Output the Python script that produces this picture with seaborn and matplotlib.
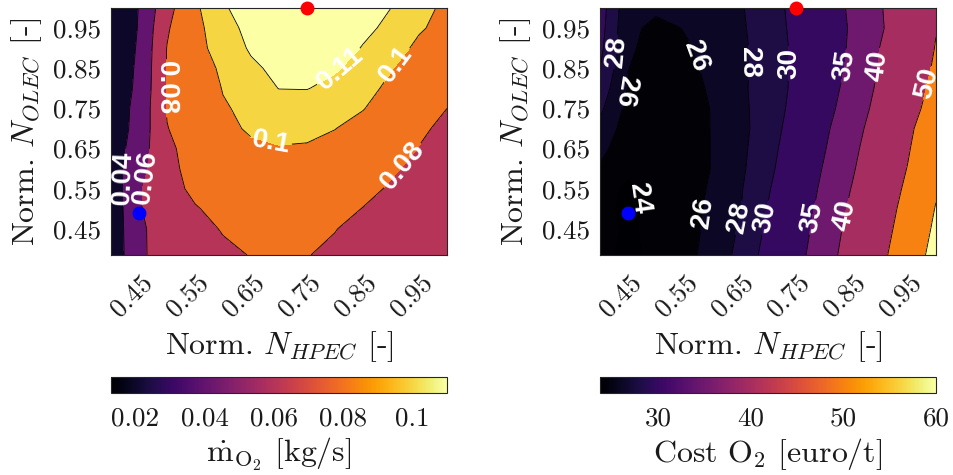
import matplotlib
matplotlib.use("Agg")
import matplotlib.pyplot as plt
import numpy as np
import seaborn as sns
from matplotlib.colors import Normalize
from matplotlib.cm import ScalarMappable
from matplotlib.transforms import ScaledTranslation

# ---------------- data ----------------
x_norm_hpec = [0.40, 0.45, 0.50, 0.55, 0.60, 0.65, 0.70, 0.75, 0.80, 0.85, 0.90, 0.95, 1.00]
y_norm_olec = [0.385, 0.45, 0.50, 0.55, 0.60, 0.65, 0.70, 0.75, 0.80, 0.85, 0.90, 0.95, 1.00]

# mass flow of O2 [kg/s], rows follow y_norm_olec (bottom to top)
mdot_o2 = [
    [0.026, 0.056, 0.070, 0.074, 0.077, 0.0805, 0.082, 0.0805, 0.077, 0.071, 0.068, 0.064, 0.061],
    [0.026, 0.057, 0.068, 0.075, 0.081, 0.0835, 0.085, 0.0845, 0.0805, 0.075, 0.070, 0.066, 0.062],
    [0.026, 0.0585, 0.072, 0.079, 0.084, 0.087, 0.0885, 0.0885, 0.086, 0.0795, 0.073, 0.068, 0.064],
    [0.026, 0.058, 0.0747, 0.083, 0.0875, 0.0905, 0.092, 0.092, 0.0895, 0.085, 0.078, 0.070, 0.065],
    [0.029, 0.053, 0.075, 0.086, 0.090, 0.094, 0.0955, 0.0955, 0.093, 0.089, 0.0825, 0.075, 0.068],
    [0.029, 0.050, 0.077, 0.086, 0.094, 0.098, 0.0995, 0.099, 0.097, 0.093, 0.0875, 0.0795, 0.072],
    [0.028, 0.047, 0.0795, 0.088, 0.097, 0.1015, 0.1025, 0.1025, 0.1002, 0.096, 0.090, 0.083, 0.076],
    [0.028, 0.046, 0.081, 0.090, 0.099, 0.1025, 0.1045, 0.1055, 0.1035, 0.1005, 0.094, 0.087, 0.080],
    [0.027, 0.044, 0.081, 0.092, 0.1005, 0.1055, 0.1102, 0.1103, 0.1075, 0.103, 0.098, 0.092, 0.087],
    [0.027, 0.043, 0.081, 0.094, 0.102, 0.1085, 0.112, 0.1135, 0.111, 0.1065, 0.1005, 0.095, 0.091],
    [0.026, 0.042, 0.0805, 0.096, 0.105, 0.111, 0.114, 0.116, 0.114, 0.1095, 0.104, 0.098, 0.094],
    [0.025, 0.041, 0.078, 0.097, 0.106, 0.113, 0.116, 0.118, 0.117, 0.112, 0.108, 0.101, 0.097],
    [0.025, 0.0405, 0.0733, 0.098, 0.109, 0.114, 0.118, 0.120, 0.119, 0.115, 0.110, 0.103, 0.098],
]

# cost of O2 [euro/t], rows follow y_norm_olec (bottom to top)
cost_o2 = [
    [24.3, 23.75, 24.3, 25.3, 26.8, 28.5, 30.8, 33.5, 37.7, 42.4, 48.1, 55.0, 63.0],
    [24.5, 23.8, 24.35, 25.1, 26.6, 28.2, 30.4, 32.8, 37.1, 41.6, 47.0, 53.5, 61.5],
    [24.4, 23.7, 24.45, 25.0, 26.4, 27.9, 30.1, 32.3, 36.5, 40.9, 46.2, 52.5, 60.4],
    [24.5, 23.8, 24.3, 24.9, 26.3, 27.8, 29.8, 31.9, 35.9, 40.2, 45.3, 51.4, 59.2],
    [25.8, 24.3, 24.05, 24.5, 26.1, 27.6, 29.5, 31.5, 35.3, 39.4, 44.4, 50.3, 57.8],
    [26.5, 24.9, 24.2, 24.6, 26.1, 27.5, 29.3, 31.2, 34.7, 38.7, 43.6, 49.4, 56.5],
    [27.5, 25.0, 24.4, 24.7, 26.1, 27.4, 29.1, 30.9, 34.2, 37.9, 42.8, 48.6, 55.0],
    [28.4, 25.4, 24.6, 24.9, 26.1, 27.5, 29.0, 30.6, 33.6, 37.0, 41.8, 47.2, 53.2],
    [29.2, 25.8, 24.8, 25.1, 26.3, 27.6, 29.0, 30.4, 33.2, 36.4, 41.0, 46.3, 52.0],
    [30.0, 26.05, 25.0, 25.4, 26.5, 27.6, 28.8, 30.4, 32.8, 35.8, 40.4, 45.5, 51.0],
    [30.5, 26.3, 25.3, 25.85, 26.3, 27.6, 28.9, 30.4, 32.7, 35.6, 40.1, 45.0, 50.3],
    [30.8, 26.4, 25.6, 26.05, 26.5, 27.7, 29.0, 30.5, 32.9, 35.4, 39.3, 44.0, 49.8],
    [31.0, 26.6, 26.3, 26.2, 26.5, 27.8, 29.1, 30.6, 33.0, 35.6, 39.5, 44.5, 49.5],
]

mdot_levels = [0.02, 0.04, 0.06, 0.08, 0.10, 0.11]
cost_levels = [24, 26, 28, 30, 35, 40, 50, 60]
mdot_range = (0.013, 0.11)
cost_range = (23.7, 60.0)
mdot_cbar_ticks = [0.02, 0.04, 0.06, 0.08, 0.1]
mdot_cbar_labels = ["0.02", "0.04", "0.06", "0.08", "0.1"]
cost_cbar_ticks = [30, 40, 50, 60]
cost_cbar_labels = ["30", "40", "50", "60"]
axis_ticks = [0.45, 0.55, 0.65, 0.75, 0.85, 0.95]
axis_tick_labels = ["0.45", "0.55", "0.65", "0.75", "0.85", "0.95"]
x_limits = (0.40, 1.00)
y_limits = (0.385, 1.00)

max_mdot_point = (0.75, 1.00)   # red marker
min_cost_point = (0.45, 0.49)   # blue marker

# contour label positions: level -> list of (x, y, reading direction)
mdot_label_pos = {0.04: [(0.422, 0.578, "up")], 0.06: [(0.461, 0.578, "up")],
                  0.08: [(0.497, 0.80, "down"), (0.919, 0.61, "up")],
                  0.10: [(0.684, 0.657, None), (0.904, 0.865, "up")],
                  0.11: [(0.809, 0.85, "up")]}
cost_label_pos = {24: [(0.471, 0.525, "down")],
                  26: [(0.439, 0.795, "down"), (0.564, 0.877, "down"), (0.584, 0.49, "up")],
                  28: [(0.432, 0.89, "up"), (0.668, 0.865, "down"), (0.65, 0.477, "up")],
                  30: [(0.734, 0.862, "up"), (0.70, 0.477, "up")],
                  35: [(0.829, 0.857, "up"), (0.784, 0.477, "up")],
                  40: [(0.896, 0.857, "up"), (0.846, 0.482, "up")],
                  50: [(0.98, 0.815, "up")]}

# ---------------- style ----------------
sns.set_style("white")
plt.rcParams.update({
    "font.family": "serif",
    "font.serif": ["cmr10"],
    "mathtext.fontset": "cm",
    "axes.unicode_minus": False,
    "axes.formatter.use_mathtext": True,
})
cmap = sns.color_palette("inferno", as_cmap=True)

W, H = 954, 475
fig = plt.figure(figsize=(W / 100, H / 100), dpi=100)


def fx(px):
    return px / W


def fy(py):
    return 1 - py / H


FS_TICK = 19.5
FS_LAB = 23
CL_FS = 20
EDGE = "#262626"
TXT = "#1a1a1a"


def orient(text, direction):
    r = ((text.get_rotation() + 180.0) % 360.0) - 180.0
    if direction == "up" and r < 0:
        r += 180.0
    elif direction == "down" and r > 0:
        r -= 180.0
    text.set_rotation(r)


def draw_panel(ax_left_px, Z, levels, vrange, label_pos, cbar_ticks, cbar_labels, cbar_title):
    ax = fig.add_axes([fx(ax_left_px), fy(255), 336 / W, 247 / H])
    cax = fig.add_axes([fx(ax_left_px), fy(393), 336 / W, 16 / H])
    norm = Normalize(vmin=vrange[0], vmax=vrange[1])
    X, Y = np.meshgrid(x_norm_hpec, y_norm_olec)
    Z = np.asarray(Z)
    bounds = [min(Z.min(), vrange[0]) - 1e-6] + list(levels) + [max(Z.max(), vrange[1]) + 1e-6]
    colors = [cmap(norm(vrange[0]))] + [cmap(norm(l)) for l in levels]
    ax.contourf(X, Y, Z, levels=bounds, colors=colors)
    for lev in levels:
        cs = ax.contour(X, Y, Z, levels=[lev], colors="k", linewidths=0.6)
        if lev in label_pos:
            pts = [(p[0], p[1]) for p in label_pos[lev]]
            with plt.rc_context({"font.family": "Liberation Sans", "font.weight": "bold"}):
                cs.clabel(manual=pts, inline=True, inline_spacing=2,
                          fmt="%g", fontsize=CL_FS, colors="white")
            for t, p in zip(cs.labelTexts, label_pos[lev]):
                orient(t, p[2])
    ax.plot([max_mdot_point[0]], [max_mdot_point[1]], "o", color="red", ms=9, clip_on=False, zorder=10)
    ax.plot([min_cost_point[0]], [min_cost_point[1]], "o", color="blue", ms=9, clip_on=False, zorder=10)
    ax.set_xlim(*x_limits)
    ax.set_ylim(*y_limits)
    ax.set_xticks(axis_ticks)
    ax.set_xticklabels(axis_tick_labels, rotation=45, ha="right", va="center", rotation_mode="anchor")
    ax.set_yticks(axis_ticks)
    ax.set_yticklabels(axis_tick_labels)
    ax.tick_params(direction="in", length=4, width=0.6, colors=EDGE, labelcolor=TXT,
                   labelsize=FS_TICK, top=True, right=True)
    ax.tick_params(axis="y", pad=7)
    ax.tick_params(axis="x", pad=17)
    shift = ScaledTranslation(10 / 100, 0, fig.dpi_scale_trans)
    for lab in ax.get_xticklabels():
        lab.set_transform(lab.get_transform() + shift)
    for sp in ax.spines.values():
        sp.set_color(EDGE)
        sp.set_linewidth(0.8)
    ax.set_xlabel(r"Norm. $N_{HPEC}$ [-]", fontsize=FS_LAB, color=TXT)
    ax.xaxis.set_label_coords(0.5, -0.30)
    ax.xaxis.label.set_va("top")
    ax.set_ylabel(r"Norm. $N_{OLEC}$ [-]", fontsize=FS_LAB, color=TXT)
    ax.yaxis.set_label_coords(-0.20, 0.5)

    cb = fig.colorbar(ScalarMappable(norm=norm, cmap=cmap), cax=cax, orientation="horizontal")
    cb.set_ticks(cbar_ticks)
    cb.set_ticklabels(cbar_labels)
    cax.tick_params(direction="in", length=3, width=0.6, colors=EDGE, labelcolor=TXT,
                    labelsize=FS_TICK, pad=10)
    cb.outline.set_edgecolor(EDGE)
    cb.outline.set_linewidth(0.8)
    cax.set_xlabel(cbar_title, fontsize=FS_LAB, color=TXT)
    cax.xaxis.set_label_coords(0.5, -2.7)
    cax.xaxis.label.set_va("top")
    return ax


draw_panel(111, mdot_o2, mdot_levels, mdot_range, mdot_label_pos,
           mdot_cbar_ticks, mdot_cbar_labels, r"$\dot{\mathrm{m}}_{\mathrm{O}_2}$ [kg/s]")
draw_panel(600, cost_o2, cost_levels, cost_range, cost_label_pos,
           cost_cbar_ticks, cost_cbar_labels, r"Cost O$_2$ [euro/t]")

fig.savefig("out.png", dpi=100)
